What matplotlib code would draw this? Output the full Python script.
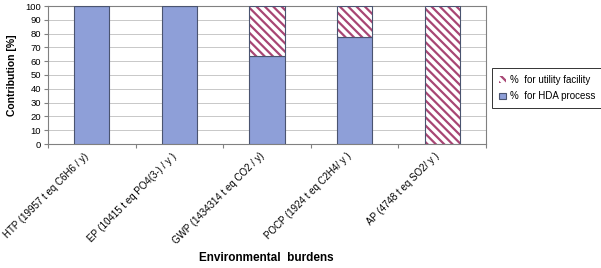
import numpy as np
import matplotlib.pyplot as plt
import matplotlib.transforms as mtransforms

plt.rcParams['font.family'] = ['Liberation Sans', 'DejaVu Sans']
plt.rcParams['hatch.linewidth'] = 1.6

categories = ["HTP (19957 t eq C6H6 / y)", "EP (10415 t eq PO4(3-) / y )",
              "GWP (1434314 t eq CO2 / y)", "POCP (1924 t eq C2H4/ y )",
              "AP (4748 t eq SO2/ y )"]
hda = [100, 100, 64, 77.5, 0]
utility = [0, 0, 36, 22.5, 100]

fig = plt.figure(figsize=(6.01, 2.68), dpi=100)
ax = fig.add_axes([48 / 601, 1 - 144 / 268, 438 / 601, 138 / 268])

x = np.arange(len(categories))
w = 0.4
ax.bar(x, hda, w, color='#8E9FD8', edgecolor='#4a5470', linewidth=0.8,
       label='%  for HDA process', zorder=3)
ax.bar(x, utility, w, bottom=hda, color='white', edgecolor='#a84674',
       hatch='\\' * 4, linewidth=0, label='%  for utility facility', zorder=3)
ax.bar(x, utility, w, bottom=hda, fill=False, edgecolor='#4a5470',
       linewidth=0.8, zorder=4)

ax.set_xlim(-0.5, len(categories) - 0.5)
ax.set_ylim(0, 100)
ax.set_yticks(range(0, 101, 10))
ax.yaxis.grid(True, color='#c8c8c8', linewidth=0.7, zorder=0)
ax.set_xticks(np.arange(-0.5, len(categories), 1))
ax.set_xticklabels([])
ax.set_xticks(x, minor=True)
ax.set_xticklabels(categories, minor=True, rotation=45, ha='right',
                   rotation_mode='anchor', fontsize=7.0)
ax.tick_params(axis='x', which='minor', length=0, pad=5)
ax.tick_params(axis='x', which='major', length=3, color='#808080')
ax.tick_params(axis='y', labelsize=6.8, length=3, color='#808080', pad=2)
shift = mtransforms.ScaledTranslation(-8 / 100, 0, fig.dpi_scale_trans)
for lbl in ax.get_xticklabels(minor=True):
    lbl.set_transform(lbl.get_transform() + shift)
for s in ax.spines.values():
    s.set_color('#808080')
    s.set_linewidth(0.8)

ax.set_ylabel('Contribution [%]', fontsize=7.5, fontweight='bold', labelpad=6)
fig.text(266 / 601, 1 - 258 / 268, 'Environmental  burdens', fontsize=8.5,
         fontweight='bold', ha='center', va='center')

handles, labels = ax.get_legend_handles_labels()
leg = ax.legend(handles[::-1], labels[::-1], loc='center left',
                bbox_to_anchor=(492 / 601, 1 - 88 / 268), bbox_transform=fig.transFigure,
                fontsize=7.0, frameon=True, fancybox=False, edgecolor='black',
                handlelength=0.7, handleheight=0.7, handletextpad=0.4,
                borderpad=0.7, labelspacing=0.7, borderaxespad=0)
leg.get_frame().set_linewidth(0.7)

fig.savefig('out.png', dpi=100)
